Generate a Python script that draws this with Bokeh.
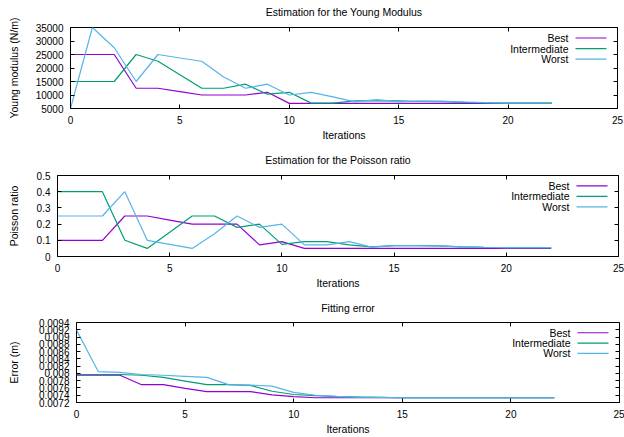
from bokeh.plotting import figure
from bokeh.layouts import column
from bokeh.models import LinearAxis, FixedTicker, CustomJSTickFormatter, Label, Range1d
from bokeh.embed import file_html
from bokeh.resources import INLINE

# ---------------- data ----------------
iterations = list(range(23))

young_best = [25000, 25000, 25000, 12500, 12500, 11250, 10000, 10000, 10000, 11000, 6900, 6900,
              6900, 6900, 6900, 6900, 6900, 6900, 6900, 6900, 6900, 6900, 6900]
young_inter = [15000, 15000, 15000, 25000, 22500, 17500, 12500, 12500, 14000, 10300, 11000, 7000,
               7000, 7800, 7800, 7800, 7600, 7500, 7300, 7100, 7000, 7000, 7000]
young_worst = [5000, 35000, 27500, 15000, 25000, 23700, 22500, 16700, 12500, 14000, 10000, 11000,
               9300, 7450, 8300, 7450, 7800, 7700, 7400, 7200, 7000, 7000, 7000]

poisson_best = [0.1, 0.1, 0.1, 0.25, 0.25, 0.225, 0.2, 0.2, 0.2, 0.072, 0.092, 0.05,
                0.05, 0.05, 0.05, 0.05, 0.05, 0.05, 0.05, 0.05, 0.05, 0.05, 0.05]
poisson_inter = [0.4, 0.4, 0.4, 0.1, 0.05, 0.15, 0.25, 0.25, 0.18, 0.2, 0.075, 0.092,
                 0.092, 0.072, 0.06, 0.067, 0.067, 0.065, 0.06, 0.057, 0.055, 0.055, 0.055]
poisson_worst = [0.25, 0.25, 0.25, 0.4, 0.1, 0.075, 0.05, 0.14, 0.25, 0.18, 0.2, 0.072,
                 0.072, 0.092, 0.058, 0.067, 0.067, 0.065, 0.06, 0.057, 0.055, 0.055, 0.055]

error_best = [0.00795, 0.00795, 0.00795, 0.00769, 0.00769, 0.00759, 0.0075, 0.0075, 0.0075,
              0.00741, 0.00736, 0.00733, 0.00733, 0.00733, 0.00733, 0.00733, 0.00733, 0.00733,
              0.00733, 0.00733, 0.00733, 0.00733, 0.00733]
error_inter = [0.00797, 0.00797, 0.00797, 0.00795, 0.00789, 0.00779, 0.00769, 0.00769, 0.00767,
               0.00751, 0.00742, 0.00739, 0.00736, 0.00735, 0.00734, 0.00733, 0.00733, 0.00733,
               0.00733, 0.00733, 0.00733, 0.00733, 0.00733]
error_worst = [0.00919, 0.00805, 0.00803, 0.00797, 0.00795, 0.00792, 0.00789, 0.00769, 0.00768,
               0.00765, 0.00748, 0.0074, 0.00737, 0.00735, 0.00734, 0.00733, 0.00733, 0.00733,
               0.00733, 0.00733, 0.00733, 0.00733, 0.00733]

series_names = ["Best", "Intermediate", "Worst"]
x_ticks = [0, 5, 10, 15, 20, 25]
young_ticks = [5000, 10000, 15000, 20000, 25000, 30000, 35000]
poisson_ticks = [0, 0.1, 0.2, 0.3, 0.4, 0.5]
error_ticks = [0.0072, 0.0074, 0.0076, 0.0078, 0.008, 0.0082, 0.0084, 0.0086, 0.0088,
               0.009, 0.0092, 0.0094]

# ---------------- style ----------------
FONT = "Liberation Sans"
COLORS = ["#9400d3", "#009e73", "#56b4e9"]
W = 624


def fmt():
    return CustomJSTickFormatter(code="return Number(tick.toFixed(6)).toString();")


def blank():
    return CustomJSTickFormatter(code="return '';")


def style_axis(ax, ticks, lab, formatter):
    ax.ticker = FixedTicker(ticks=ticks)
    ax.formatter = formatter
    ax.axis_label = lab
    ax.axis_label_text_font = FONT
    ax.axis_label_text_font_size = "10.5px"
    ax.axis_label_text_font_style = "normal"
    ax.axis_label_text_color = "black"
    ax.major_label_text_font = FONT
    ax.major_label_text_font_size = "10px"
    ax.major_label_text_color = "black"
    ax.major_tick_in = 4
    ax.major_tick_out = 0
    ax.minor_tick_in = 0
    ax.minor_tick_out = 0
    ax.major_tick_line_color = "black"
    ax.axis_line_color = None


def make_panel(title, ylabel, ys, yr, yticks, H, left, right, top, bottom,
               ylab_standoff, title_gap):
    x0, x1 = 0, 25
    y0, y1 = yr
    p = figure(width=W, height=H, x_range=Range1d(x0, x1), y_range=Range1d(y0, y1),
               output_backend="svg", toolbar_location=None,
               min_border_left=left, min_border_right=right,
               min_border_top=top, min_border_bottom=bottom)
    p.frame_align = False
    p.background_fill_color = "white"
    p.border_fill_color = "white"
    p.outline_line_color = "black"
    p.outline_line_width = 1
    p.outline_line_alpha = 1
    p.xgrid.visible = False
    p.ygrid.visible = False

    style_axis(p.xaxis[0], x_ticks, "Iterations", fmt())
    style_axis(p.yaxis[0], yticks, ylabel, fmt())
    p.xaxis[0].major_label_standoff = 7
    p.xaxis[0].axis_label_standoff = 2
    p.yaxis[0].major_label_standoff = 7
    p.yaxis[0].axis_label_standoff = ylab_standoff

    # mirrored ticks on top (carrying the panel title) and on the right
    top_ax = LinearAxis()
    style_axis(top_ax, x_ticks, title, blank())
    top_ax.major_label_text_font_size = "0px"
    top_ax.major_label_standoff = 0
    top_ax.axis_label_standoff = title_gap
    p.add_layout(top_ax, "above")

    right_ax = LinearAxis()
    style_axis(right_ax, yticks, "", blank())
    right_ax.major_label_text_font_size = "0px"
    right_ax.major_label_standoff = 0
    p.add_layout(right_ax, "right")

    for name, y, c in zip(series_names, ys, COLORS):
        p.line(iterations, y, line_color=c, line_width=1.2)

    # legend (label right-aligned, key line to its right), placed by pixel offsets in the frame
    fw = W - left - right
    fh = H - top - bottom

    def px_x(px_from_right):
        return x1 - px_from_right / fw * (x1 - x0)

    def px_y(px_from_top):
        return y1 - px_from_top / fh * (y1 - y0)

    for i, (name, c) in enumerate(zip(series_names, COLORS)):
        yy = px_y(10.5 + 10.6 * i)
        p.add_layout(Label(x=px_x(49), y=yy, text=name, text_align="right",
                           text_baseline="middle", text_font=FONT,
                           text_font_size="10.5px", text_color="black"))
        p.segment(x0=[px_x(42)], y0=[yy], x1=[px_x(11)], y1=[yy], line_color=c, line_width=1.2)
    return p


p1 = make_panel("Estimation for the Young Modulus", "Young modulus (N/m)",
                [young_best, young_inter, young_worst], (5000, 35000), young_ticks,
                H=143, left=70, right=7, top=27, bottom=35, ylab_standoff=13, title_gap=10)
p2 = make_panel("Estimation for the Poisson ratio", "Poisson ratio",
                [poisson_best, poisson_inter, poisson_worst], (0, 0.5), poisson_ticks,
                H=148, left=57, right=6, top=32, bottom=34, ylab_standoff=14, title_gap=10)
p3 = make_panel("Fitting error", "Error (m)",
                [error_best, error_inter, error_worst], (0.0072, 0.0094), error_ticks,
                H=146, left=76, right=5, top=31, bottom=33, ylab_standoff=16, title_gap=9)

layout = column(p1, p2, p3, spacing=0)
open("out.html", "w").write(file_html(layout, INLINE))
